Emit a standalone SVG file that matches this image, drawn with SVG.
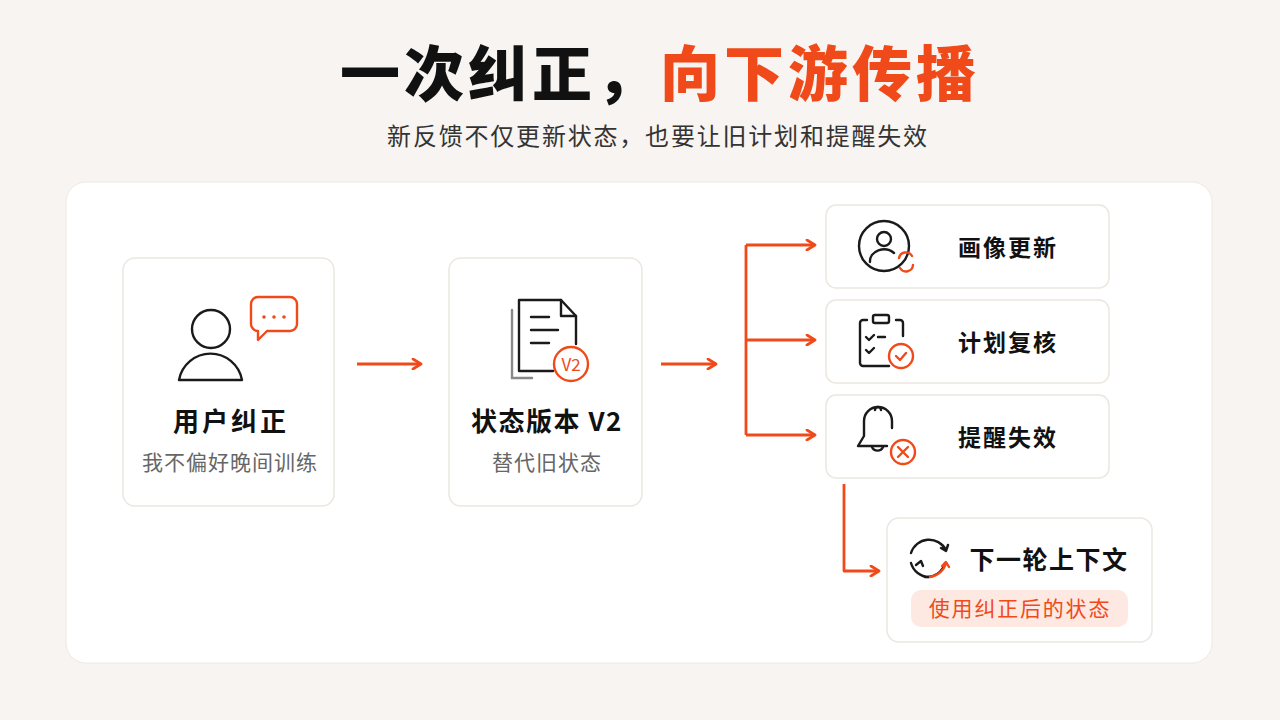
<svg xmlns="http://www.w3.org/2000/svg" width="1280" height="720" viewBox="0 0 1280 720">
<style>
.t{font-family:"Noto Sans CJK SC","Noto Sans",sans-serif}
.card{fill:#fff;stroke:#ece6e1;stroke-width:1.5}
.ic{fill:none;stroke:#1a1a1a;stroke-width:2.4;stroke-linecap:round;stroke-linejoin:round}
.ico{fill:none;stroke:#f04a1a;stroke-width:2.4;stroke-linecap:round;stroke-linejoin:round}
.con{fill:none;stroke:#f04a1a;stroke-width:2.8;stroke-linejoin:round}
</style>
<defs>
<marker id="ah" viewBox="0 0 12 12" refX="10" refY="6" markerWidth="12" markerHeight="12" markerUnits="userSpaceOnUse" orient="auto">
<path d="M2,1 L10,6 L2,11" fill="none" stroke="#f04a1a" stroke-width="2.8" stroke-linecap="round" stroke-linejoin="round"/>
</marker>
</defs>
<rect width="1280" height="720" fill="#f7f4f1"/>
<text x="660" y="96" text-anchor="middle" class="t" font-size="60" font-weight="900" letter-spacing="4"><tspan fill="#111">一次纠正，</tspan><tspan fill="#f04a1a">向下游传播</tspan></text>
<text x="658" y="145" text-anchor="middle" class="t" font-size="24" fill="#333" letter-spacing="1.8">新反馈不仅更新状态，也要让旧计划和提醒失效</text>
<rect x="66" y="182" width="1146" height="481" rx="20" fill="#fff" stroke="#eee9e4"/>

<g id="n1">
<rect class="card" x="123" y="258" width="211" height="248" rx="12"/>
<circle class="ic" cx="211" cy="329" r="19"/>
<path class="ic" d="M179,380 A32,32 0 0 1 242,380 Z"/>
<path class="ico" d="M258,297 h32 a7,7 0 0 1 7,7 v20 a7,7 0 0 1 -7,7 h-23 l-9,9 v-9 h0 a7,7 0 0 1 -7,-7 v-20 a7,7 0 0 1 7,-7z"/>
<circle cx="264" cy="317" r="1.8" fill="#f04a1a"/><circle cx="274" cy="317" r="1.8" fill="#f04a1a"/><circle cx="284" cy="317" r="1.8" fill="#f04a1a"/>
<text x="231" y="431" text-anchor="middle" class="t" font-size="26" font-weight="700" fill="#111" letter-spacing="3">用户纠正</text>
<text x="230" y="470" text-anchor="middle" class="t" font-size="21" fill="#666" letter-spacing="1">我不偏好晚间训练</text>
</g>

<g id="n2">
<rect class="card" x="449" y="258" width="193" height="248" rx="12"/>
<path d="M512,310 v68 h20" fill="none" stroke="#888" stroke-width="2.4" stroke-linecap="round"/>
<path class="ic" d="M519,300 h42 l15,16 v28 M553,371 h-34 z M519,300 v71"/>
<path class="ic" d="M561,300 v16 h15"/>
<path class="ic" d="M531,317 h18 M531,330 h27 M531,343 h18"/>
<circle cx="571" cy="364" r="17" fill="#fff" stroke="#f04a1a" stroke-width="2.4"/>
<text x="571" y="371" text-anchor="middle" class="t" font-size="17" fill="#f04a1a">V2</text>
<text x="547" y="431" text-anchor="middle" class="t" font-size="26" font-weight="700" fill="#111" letter-spacing="1.5">状态版本 V2</text>
<text x="547" y="470" text-anchor="middle" class="t" font-size="21" fill="#666" letter-spacing="1">替代旧状态</text>
</g>

<g id="n3">
<rect class="card" x="826" y="205" width="283" height="83" rx="10"/>
<circle class="ic" cx="884" cy="246" r="25"/>
<circle class="ic" cx="884" cy="239" r="7"/>
<path class="ic" d="M870,262 a14,12 0 0 1 24,-9"/>
<path class="ico" d="M899,258 a7,7 0 0 1 13,-2 M913,265 a7,7 0 0 1 -13,3"/>
<text x="1008" y="256" text-anchor="middle" class="t" font-size="23" font-weight="700" fill="#111" letter-spacing="2">画像更新</text>
</g>

<g id="n4">
<rect class="card" x="826" y="300" width="283" height="83" rx="10"/>
<path class="ic" d="M867,320 h-4 a3,3 0 0 0 -3,3 v40 a3,3 0 0 0 3,3 h26 M903,336 v-13 a3,3 0 0 0 -3,-3 h-4"/>
<rect class="ic" x="873" y="315" width="16" height="8" rx="2"/>
<path class="ic" d="M866,337 l3,3 5,-5 M878,337 h7 M866,350 l3,3 5,-5"/>
<circle class="ico" cx="901" cy="356" r="12"/>
<path class="ico" d="M896,356 l4,4 6,-7"/>
<text x="1008" y="351" text-anchor="middle" class="t" font-size="23" font-weight="700" fill="#111" letter-spacing="2">计划复核</text>
</g>

<g id="n5">
<rect class="card" x="826" y="395" width="283" height="83" rx="10"/>
<path class="ic" d="M892,428 v-7 a14,14 0 0 0 -28,0 v15 l-6,10 h29"/>
<path class="ic" d="M875,410 a3,3 0 0 1 6,0"/>
<path class="ic" d="M872,447 a6,6 0 0 0 11,0"/>
<circle class="ico" cx="903" cy="452" r="12"/>
<path class="ico" d="M898,447 l10,10 M908,447 l-10,10"/>
<text x="1008" y="446" text-anchor="middle" class="t" font-size="23" font-weight="700" fill="#111" letter-spacing="2">提醒失效</text>
</g>

<g id="n6">
<rect class="card" x="887" y="518" width="265" height="124" rx="12"/>
<path class="ic" d="M911,553 a19,19 0 0 1 35,-3 M941,548 l5,3 2,-6"/>
<path class="ic" d="M945,563 a19,19 0 0 1 -20,14 M923,566 l-2,-5 -5,4"/>
<path class="ic" d="M929,577 a19,19 0 0 1 -18,-14"/>
<path class="ico" d="M930,577 a19,19 0 0 0 16,-14 M942,566 l4,-4 3,5"/>
<text x="1049" y="569" text-anchor="middle" class="t" font-size="25" font-weight="700" fill="#111" letter-spacing="1.5">下一轮上下文</text>
<rect x="911" y="590" width="217" height="37" rx="10" fill="#fde9e2"/>
<text x="1020" y="616" text-anchor="middle" class="t" font-size="21" fill="#f04a1a" letter-spacing="1.8">使用纠正后的状态</text>
</g>

<g id="connectors">
<path class="con" d="M357,364 H421" marker-end="url(#ah)"/>
<path class="con" d="M661,364 H716" marker-end="url(#ah)"/>
<path class="con" d="M746,245 V435"/>
<path class="con" d="M746,245 H815" marker-end="url(#ah)"/>
<path class="con" d="M746,340 H815" marker-end="url(#ah)"/>
<path class="con" d="M746,435 H815" marker-end="url(#ah)"/>
<path class="con" d="M844,484 V571 H879" marker-end="url(#ah)"/>
</g>
</svg>
